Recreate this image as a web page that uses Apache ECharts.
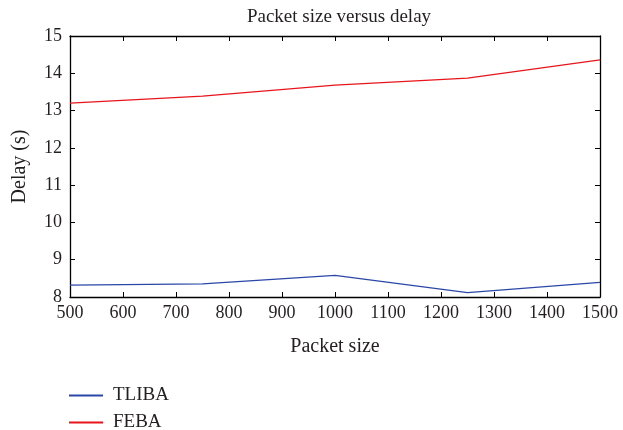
<!DOCTYPE html>
<html><head><meta charset="utf-8">
<script src="https://cdn.jsdelivr.net/npm/echarts@6/dist/echarts.min.js"></script>
<style>html,body{margin:0;padding:0;background:#fff}#c{width:623px;height:430px}</style>
</head><body><div id="c"></div>
<script>
var packetSizes = [500, 750, 1000, 1250, 1500];
var tliba = [8.32, 8.35, 8.58, 8.12, 8.39];
var feba = [13.2, 13.39, 13.68, 13.87, 14.36];
var seriesNames = ['TLIBA', 'FEBA'];
var titleText = 'Packet size versus delay';

var font = 'Liberation Serif';
var txt = '#231f20';
var chart = echarts.init(document.getElementById('c'));
function pairs(xs, ys){ return xs.map(function(x,i){return [x, ys[i]];}); }
var axisLine = {show:true, lineStyle:{color:'#000', width:1.3}};
var tick = {show:true, inside:true, length:5, lineStyle:{color:'#000', width:1}};
function legendFor(name, top){
  return {orient:'vertical', left:64, top:top, itemWidth:34, itemHeight:2,
    icon:'rect', textStyle:{fontFamily:font, fontSize:19, color:txt, padding:[0,0,0,5]}, data:[name]};
}
chart.setOption({
  animation:false,
  title:{text:titleText, left:334, top:3, textAlign:'center',
    textStyle:{fontFamily:font, fontWeight:'normal', fontSize:19, color:txt}},
  grid:{left:70, right:23, top:36, bottom:133},
  xAxis:[{type:'value', min:500, max:1500, interval:100, position:'bottom',
      name:'Packet size', nameLocation:'middle', nameGap:40,
      nameTextStyle:{fontFamily:font, fontSize:20, color:txt},
      axisLine:axisLine, axisTick:tick, splitLine:{show:false},
      axisLabel:{fontFamily:font, fontSize:18, color:txt, margin:7,
        formatter:function(v){return String(v);}}},
    {type:'value', min:500, max:1500, interval:100, position:'top',
      axisLine:axisLine, axisTick:tick, splitLine:{show:false}, axisLabel:{show:false}}],
  yAxis:[{type:'value', min:8, max:15, interval:1, position:'left',
      name:'Delay (s)', nameLocation:'middle', nameGap:40,
      nameTextStyle:{fontFamily:font, fontSize:20, color:txt},
      axisLine:axisLine, axisTick:tick, splitLine:{show:false},
      axisLabel:{fontFamily:font, fontSize:18, color:txt, margin:8}},
    {type:'value', min:8, max:15, interval:1, position:'right',
      axisLine:axisLine, axisTick:tick, splitLine:{show:false}, axisLabel:{show:false}}],
  legend:[legendFor(seriesNames[0], 381), legendFor(seriesNames[1], 408)],
  series:[
    {name:seriesNames[0], type:'line', data:pairs(packetSizes, tliba), showSymbol:false,
      color:'#2b47a8', lineStyle:{width:1.3, color:'#2b47a8'}},
    {name:seriesNames[1], type:'line', data:pairs(packetSizes, feba), showSymbol:false,
      color:'#e8151b', lineStyle:{width:1.3, color:'#e8151b'}}
  ]
});
</script></body></html>
